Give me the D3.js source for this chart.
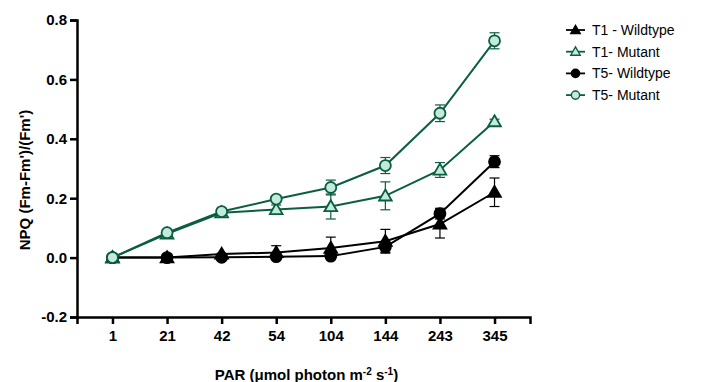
<!DOCTYPE html>
<html>
<head>
    <meta charset="UTF-8">
    <style>
        body { margin: 0; background: #fff; }
        .axis path, .axis line { stroke: #000; stroke-width: 2.5px; }
        .axis text { font-family: "Liberation Sans", Arial, sans-serif; font-weight: bold; font-size: 15px; fill: #000; }
        .title { font-family: "Liberation Sans", Arial, sans-serif; font-weight: bold; font-size: 15px; fill: #000; }
        .legend text { font-family: "Liberation Sans", Arial, sans-serif; font-size: 14px; fill: #000; }
    </style>
    <script src="https://d3js.org/d3.v7.min.js"></script>
</head>
<body>
    <svg id="chart" width="704" height="382"></svg>
    <script>
        // x categories (PAR)
        var par = ["1", "21", "42", "54", "104", "144", "243", "345"];
        var yTicks = [-0.2, 0.0, 0.2, 0.4, 0.6, 0.8];

        // values
        var t1Wild = [0, 0, 0.012, 0.017, 0.032, 0.055, 0.113, 0.22];
        var t1WildErr = [0, 0, 0.005, 0.023, 0.037, 0.04, 0.047, 0.048];
        var t1Mut = [0, 0.08, 0.151, 0.162, 0.172, 0.208, 0.295, 0.458];
        var t1MutErr = [0, 0.01, 0.01, 0.015, 0.042, 0.047, 0.025, 0.008];
        var t5Wild = [0, 0, 0.001, 0.003, 0.005, 0.036, 0.148, 0.323];
        var t5WildErr = [0, 0, 0, 0.003, 0.004, 0.018, 0.018, 0.02];
        var t5Mut = [0, 0.084, 0.155, 0.197, 0.236, 0.31, 0.486, 0.73];
        var t5MutErr = [0, 0.008, 0.01, 0.01, 0.025, 0.027, 0.028, 0.027];

        var dark = "#0b5e40", mint = "#c3ebdb";

        var series = [
            { name: "T1 - Wildtype", v: t1Wild, e: t1WildErr, color: "#000", fill: "#000", shape: "tri" },
            { name: "T1- Mutant", v: t1Mut, e: t1MutErr, color: dark, fill: mint, shape: "tri" },
            { name: "T5- Wildtype", v: t5Wild, e: t5WildErr, color: "#000", fill: "#000", shape: "circle" },
            { name: "T5- Mutant", v: t5Mut, e: t5MutErr, color: dark, fill: mint, shape: "circle" }
        ];

        var svg = d3.select("#chart");
        var mLeft = 77, mRight = 530, mTop = 20, mBottom = 317;

        var x = d3.scalePoint().domain(par).range([mLeft, mRight]).padding(0.65);
        var y = d3.scaleLinear().domain([-0.2, 0.8]).range([mBottom, mTop]);

        svg.append("g").attr("class", "axis")
            .attr("transform", "translate(" + mLeft + ",0)")
            .call(d3.axisLeft(y).tickValues(yTicks)
                .tickFormat(function(d) { return d.toFixed(1); })
                .tickSizeOuter(0).tickSize(7).tickPadding(3));

        svg.append("g").attr("class", "axis")
            .attr("transform", "translate(0," + mBottom + ")")
            .call(d3.axisBottom(x).tickSizeOuter(0).tickSize(7).tickPadding(6));

        svg.append("text").attr("class", "title")
            .attr("transform", "translate(30,180) rotate(-90)")
            .attr("text-anchor", "middle")
            .text("NPQ (Fm-Fm')/(Fm')");

        var xt = svg.append("text").attr("class", "title")
            .attr("x", (mLeft + mRight) / 2 + 3).attr("y", 380)
            .attr("text-anchor", "middle");
        xt.append("tspan").text("PAR (\u03BCmol photon m");
        xt.append("tspan").attr("dy", -5).attr("font-size", "10px").text("-2");
        xt.append("tspan").attr("dy", 5).text(" s");
        xt.append("tspan").attr("dy", -5).attr("font-size", "10px").text("-1");
        xt.append("tspan").attr("dy", 5).text(")");

        function drawMarker(g, s, cx, cy, k) {
            if (s.shape === "circle") {
                g.append("circle").attr("cx", cx).attr("cy", cy).attr("r", 5.5 * k)
                    .attr("fill", s.fill).attr("stroke", s.color).attr("stroke-width", 1.8 * k);
            } else {
                g.append("path").attr("d", d3.symbol().type(d3.symbolTriangle).size(70 * k * k))
                    .attr("transform", "translate(" + cx + "," + (cy + k) + ")")
                    .attr("fill", s.fill).attr("stroke", s.color).attr("stroke-width", 1.8 * k);
            }
        }

        var line = d3.line().x(function(d, i) { return x(par[i]); }).y(function(d) { return y(d); });

        series.forEach(function(s) {
            var g = svg.append("g");
            g.append("path").datum(s.v).attr("d", line)
                .attr("fill", "none").attr("stroke", s.color).attr("stroke-width", 2);
            s.v.forEach(function(d, i) {
                if (s.e[i] > 0.006) {
                    var cx = x(par[i]);
                    g.append("line").attr("x1", cx).attr("x2", cx)
                        .attr("y1", y(d + s.e[i])).attr("y2", y(d - s.e[i]))
                        .attr("stroke", s.color).attr("stroke-width", 1.2);
                    [d + s.e[i], d - s.e[i]].forEach(function(v) {
                        g.append("line").attr("x1", cx - 5).attr("x2", cx + 5)
                            .attr("y1", y(v)).attr("y2", y(v))
                            .attr("stroke", s.color).attr("stroke-width", 1.2);
                    });
                }
            });
            s.v.forEach(function(d, i) { drawMarker(g, s, x(par[i]), y(d), 1); });
        });

        // legend
        var lg = svg.append("g").attr("class", "legend");
        series.forEach(function(s, i) {
            var ly = 30 + i * 21.7;
            lg.append("line").attr("x1", 566).attr("x2", 585).attr("y1", ly).attr("y2", ly)
                .attr("stroke", s.color).attr("stroke-width", 1.8);
            drawMarker(lg, s, 575.5, ly, 0.75);
            lg.append("text").attr("x", 592).attr("y", ly + 5).text(s.name);
        });
    </script>
</body>
</html>
